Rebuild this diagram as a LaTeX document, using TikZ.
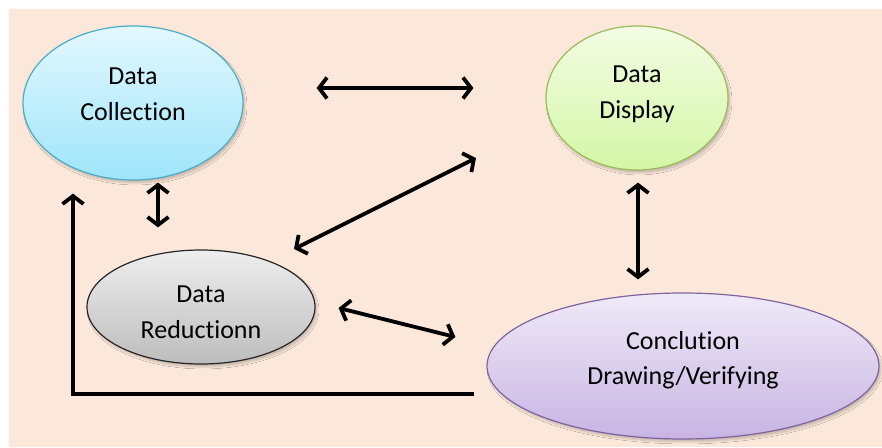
\documentclass[tikz,border=0pt]{standalone}
\usepackage{fontspec}
\setmainfont[Ligatures={NoCommon,NoContextual}, RawFeature={-calt}]{Carlito}
\usetikzlibrary{shapes.geometric, arrows.meta, shadows.blur}

\definecolor{peach}{HTML}{FBE8DA}
\definecolor{collTop}{HTML}{E3F8FE}
\definecolor{collBot}{HTML}{9FE5FA}
\definecolor{collLine}{HTML}{4BACC6}
\definecolor{dispTop}{HTML}{F3FDE4}
\definecolor{dispBot}{HTML}{D4F6A6}
\definecolor{dispLine}{HTML}{9BBB59}
\definecolor{redTop}{HTML}{EEEEEE}
\definecolor{redBot}{HTML}{BDBDBD}
\definecolor{concTop}{HTML}{EFEAF8}
\definecolor{concBot}{HTML}{C8B4E3}
\definecolor{concLine}{HTML}{7F63A1}

\begin{document}
\begin{tikzpicture}[
    x=1pt, y=1pt,
    bubble/.style={ellipse, inner sep=0pt, line width=1.2pt,
      blur shadow={shadow xshift=2pt, shadow yshift=-3pt, shadow blur steps=6, shadow opacity=20}},
    lbl/.style={anchor=north, inner sep=0pt, align=center, font=\fontsize{26}{35.5}\selectfont},
    link/.style={line width=3.8pt, {Straight Barb[length=8pt,width=21pt]}-{Straight Barb[length=8pt,width=21pt]}},
    back/.style={line width=3.8pt, -{Straight Barb[length=8pt,width=21pt]}}
    ]
    \useasboundingbox (0,0) rectangle (882,447);
    \fill[peach] (9,0) rectangle (882,438);

    % the four stages
    \node[bubble, draw=collLine, top color=collTop, bottom color=collBot,
      minimum width=220, minimum height=154] (coll) at (133,344) {};
    \node[bubble, draw=dispLine, top color=dispTop, bottom color=dispBot,
      minimum width=182, minimum height=144] (disp) at (637,349) {};
    \node[bubble, draw=black!85, top color=redTop, bottom color=redBot,
      minimum width=228, minimum height=114] (red) at (201,140) {};
    \node[bubble, draw=concLine, top color=concTop, bottom color=concBot,
      minimum width=392, minimum height=146] (conc) at (683,81) {};

    \node[lbl] (collText) at ([yshift=35]coll.center) {Data\\Collection};
    \node[lbl] (dispText) at ([yshift=32]disp.center) {Data\\Display};
    \node[lbl] (redText) at ([yshift=21]red.center) {Data\\Reductionn};
    \node[lbl] (concText) at ([yshift=35]conc.center) {Conclution\\Drawing/Verifying};

    % links
    \draw[link] ([shift={(73,15)}]coll.east) -- ([shift={(-72,10)}]disp.west);
    \draw[link] ([shift={(25,-2)}]coll.south) -- ([shift={(-43,22)}]red.north);
    \draw[link] ([shift={(93,58)}]red.center) -- ([shift={(-161,-60)}]disp.center);
    \draw[link] ([shift={(1,-12)}]disp.south) -- ([shift={(-45,13)}]conc.north);
    \draw[link] ([shift={(23,-1)}]red.east) -- ([shift={(-31,29)}]conc.west);
    \draw[back] ([shift={(-12,-28)}]conc.west) -| ([shift={(-60,-13)}]coll.south);
  \end{tikzpicture}
\end{document}
